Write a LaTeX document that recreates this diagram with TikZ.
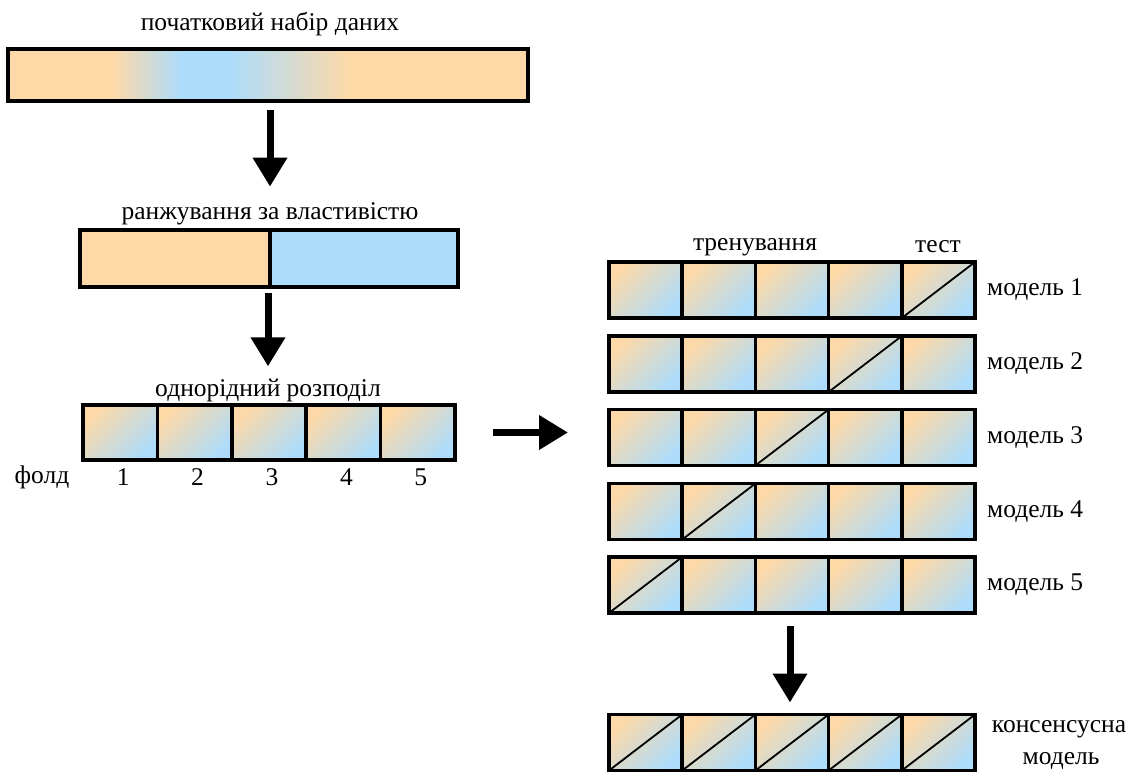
\documentclass[tikz,border=0pt]{standalone}
\usepackage{fontspec}
\setmainfont{Liberation Serif}
\usetikzlibrary{arrows.meta}
\definecolor{orng}{RGB}{253,217,168}
\definecolor{blu}{RGB}{173,220,251}
\tikzset{
  box/.style={draw=black, line width=3.5pt, inner sep=0pt, outer sep=0pt},
  sq/.style={box, minimum width=#1, minimum height=55pt, top color=orng, bottom color=blu, shading angle=45},
  sq/.default=74.4pt,
  bigarrow/.style={line width=7pt, -{Triangle[width=33pt,length=29pt]}},
  lbl/.style={font=\fontsize{25.5}{29}\selectfont, inner sep=0pt},
  diag/.style={line width=1.8pt},
}
\begin{document}
\begin{tikzpicture}[x=1pt,y=-1pt]
\useasboundingbox (0,0) rectangle (1134,776);
% initial data set
\node[lbl] (t1) at (270,24) {початковий набір даних};
\fill[orng] (8,49) rectangle (113.5,101);
\shade[left color=orng,right color=blu] (113,49) rectangle (180.5,101);
\fill[blu] (180,49) rectangle (230.5,101);
\shade[left color=blu,right color=orng] (230,49) rectangle (350.5,101);
\fill[orng] (350,49) rectangle (528,101);
\node[box, minimum width=520pt, minimum height=52pt] (bar1) at (268,75) {};
% ranking
\node[lbl] (t2) at (270,214) {ранжування за властивістю};
\node[box, fill=orng, minimum width=190pt, minimum height=57pt] (r2a) at (175,258.5) {};
\node[box, fill=blu, minimum width=188pt, minimum height=57pt] (r2b) at (364,258.5) {};
% uniform split
\node[lbl] (t3) at (268,390) {однорідний розподіл};
\foreach \i in {1,...,5}{
  \node[sq] (f\i) at ({83+74.4*(\i-0.5)},432.5) {};
  \node[lbl] (n\i) at ({86+74.4*(\i-0.5)},477) {\i};
}
\node[lbl] (fold) at (42,477) {фолд};
% arrows left
\coordinate (a1s) at (t2.north |- bar1.south);
\coordinate (a2s) at (t3.north |- r2a.south);
\draw[bigarrow] ([yshift=-9pt]a1s) -- ([yshift=16pt]t2.north);
\draw[bigarrow] ([yshift=-6pt]a2s) -- ([yshift=12pt]t3.north);
% right block
\node[lbl] (tr) at (755,247) {тренування};
\node[lbl] (ts) at (938,247) {тест};
\foreach \r/\y in {1/290,2/364,3/437.5,4/511.5,5/585}{
  \foreach \c in {1,...,5}{
    \node[sq=73.2pt, minimum height=56pt] (m\r c\c) at ({609+73.2*(\c-0.5)},\y) {};
  }
  \pgfmathtruncatemacro{\tc}{6-\r}
  \draw[diag] (m\r c\tc.south west) -- (m\r c\tc.north east);
  \node[lbl, anchor=west] (ml\r) at (987,\y) {модель \r};
}
\foreach \c in {1,...,5}{
  \node[sq=73.2pt, minimum height=56pt] (k\c) at ({609+73.2*(\c-0.5)},742.5) {};
  \draw[diag] (k\c.south west) -- (k\c.north east);
}
\node[lbl] (kl1) at (1059,729) {консенсусна};
\node[lbl] (kl2) at (1061,761) {модель};
% arrows right
\coordinate (a3s) at ([xshift=38pt]f5.east);
\coordinate (a3e) at ([xshift=-41pt]m3c1.west |- a3s);
\draw[bigarrow] (a3s) -- (a3e);
\coordinate (a4s) at ([xshift=-2pt,yshift=-13pt]m5c3.south);
\coordinate (a4e) at (a4s |- k3.north);
\draw[bigarrow] (a4s) -- ([yshift=12pt]a4e);
\end{tikzpicture}
\end{document}
